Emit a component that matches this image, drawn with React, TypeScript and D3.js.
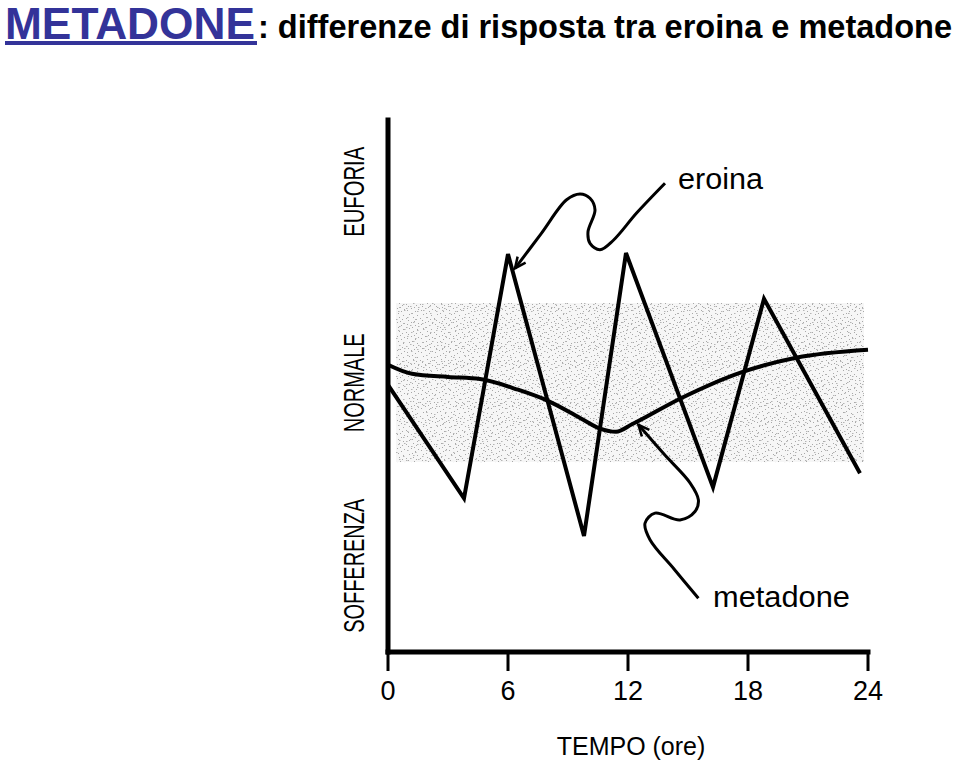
import React from "react";
import * as d3 from "d3";

// ---- data ----
const hoursTicks = [0, 6, 12, 18, 24];
const eroinaHours = [0, 3.8, 6, 9.8, 11.9, 16.25, 18.8, 23.6];
const eroinaLevel = [50.2, 28.9, 74.8, 21.8, 75.0, 31.0, 66.4, 33.6];
const metadoneHours = [0, 1.2, 3, 4.6, 6.5, 8, 9.6, 10.6, 11.4, 12.2, 14.6, 17.7, 20.4, 24];
const metadoneLevel = [54, 52.3, 51.7, 51.3, 49.3, 47.2, 44, 42, 41.4, 42.8, 47.6, 52.6, 55.3, 56.8];
const normalBand = [35.7, 65.6];
const normalBandHours = [0.4, 23.8];
const stateLabels = ["EUFORIA", "NORMALE", "SOFFERENZA"];
const stateCenters = [86.5, 50.6, 16.2];
const stateLengths = [90, 99, 134];
const eroinaCallout: [number, number][] = [
  [13.85, 88.1], [12.43, 82.5], [11.27, 77.4], [10.6, 75.6], [10.1, 76.8], [10.0, 79.0],
  [10.35, 83.1], [10.1, 85.3], [9.6, 86.1], [8.93, 85.0], [7.65, 78.6], [6.35, 72.1],
];
const metadoneCallout: [number, number][] = [
  [15.52, 10.1], [14.3, 15.6], [13.1, 21.1], [12.85, 24.2], [13.35, 26.1], [14.6, 24.8],
  [15.35, 26.4], [15.52, 28.6], [15.1, 31.8], [13.8, 37.2], [12.52, 42.7],
];
const eroinaLabelPos = [14.5, 87.0];
const metadoneLabelPos = [16.25, 8.5];

// stipple texture tiles (style only)
const dotsA: [number, number][] = [
  [1, 2], [5, 0], [9, 3], [3, 6], [11, 7], [7, 9], [0, 10], [12, 1], [6, 5], [10, 11], [2, 12], [8, 13],
];
const dotsB: [number, number][] = [
  [2, 1], [9, 4], [15, 2], [5, 8], [13, 10], [1, 14], [8, 16], [16, 17], [11, 13], [4, 18],
];

const W = 960;
const H = 782;
const FONT = "'Liberation Sans', Arial, Helvetica, sans-serif";

export default function App() {
  const x = d3.scaleLinear().domain([0, 24]).range([388, 868]);
  const y = d3.scaleLinear().domain([0, 100]).range([652, 120]);

  const eroinaLine = d3
    .line<number>()
    .x((_, i) => x(eroinaHours[i]))
    .y((d) => y(d));
  const metLine = d3
    .line<number>()
    .x((_, i) => x(metadoneHours[i]))
    .y((d) => y(d))
    .curve(d3.curveMonotoneX);
  const callLine = d3
    .line<[number, number]>()
    .x((d) => x(d[0]))
    .y((d) => y(d[1]))
    .curve(d3.curveCatmullRom.alpha(0.5));

  const bx = x(normalBandHours[0]);
  const bw = x(normalBandHours[1]) - bx;
  const by = y(normalBand[1]);
  const bh = y(normalBand[0]) - by;

  return (
    <svg
      width={W}
      height={H}
      style={{ position: "absolute", left: 0, top: 0, display: "block", background: "#fff" }}
    >
      <defs>
        <pattern id="dotsA" width={14} height={14} patternUnits="userSpaceOnUse">
          {dotsA.map((d, i) => (
            <rect key={i} x={d[0]} y={d[1]} width={1} height={1} fill="#a8a8a8" />
          ))}
        </pattern>
        <pattern id="dotsB" width={19} height={19} patternUnits="userSpaceOnUse" patternTransform="translate(3,5)">
          {dotsB.map((d, i) => (
            <rect key={i} x={d[0]} y={d[1]} width={1.5} height={1} fill="#b4b4b4" />
          ))}
        </pattern>
        <marker id="arr" viewBox="-12 -7 14 14" refX="0" refY="0" markerWidth="14" markerHeight="14"
          markerUnits="userSpaceOnUse" orient="auto">
          <path d="M-11,-5 L0,0 L-11,5" fill="none" stroke="#000" strokeWidth={2.5} />
        </marker>
      </defs>

      {/* Title */}
      <text x={5} y={39} fontFamily={FONT} fontWeight="bold" fontSize={44} fill="#333399"
        textLength={250} lengthAdjust="spacingAndGlyphs">METADONE</text>
      <rect x={5} y={41} width={252} height={4} fill="#333399" />
      <text x={258} y={38} fontFamily={FONT} fontWeight="bold" fontSize={32.5} fill="#000"
        textLength={694} lengthAdjust="spacingAndGlyphs">: differenze di risposta tra eroina e metadone</text>

      {/* normal band */}
      <rect x={bx} y={by} width={bw} height={bh} fill="#f6f6f6" />
      <rect x={bx} y={by} width={bw} height={bh} fill="url(#dotsA)" />
      <rect x={bx} y={by} width={bw} height={bh} fill="url(#dotsB)" />

      {/* axes */}
      <line x1={x(0)} x2={x(0)} y1={y(100)} y2={y(0)} stroke="#000" strokeWidth={5} strokeLinecap="square" />
      <line x1={x(0)} x2={x(24)} y1={y(0)} y2={y(0)} stroke="#000" strokeWidth={5} strokeLinecap="square" />
      {hoursTicks.map((t) => (
        <g key={t}>
          <line x1={x(t)} x2={x(t)} y1={y(0)} y2={y(0) + 19} stroke="#000" strokeWidth={3} />
          <text x={x(t)} y={700} textAnchor="middle" fontFamily={FONT} fontSize={27} fill="#000">{t}</text>
        </g>
      ))}
      <text x={631} y={755} textAnchor="middle" fontFamily={FONT} fontSize={25} fill="#000">TEMPO (ore)</text>

      {stateLabels.map((s, i) => (
        <text key={s} transform={`translate(${x(0) - 24},${y(stateCenters[i])}) rotate(-90)`}
          textAnchor="middle" fontFamily={FONT} fontSize={29} fill="#000"
          textLength={stateLengths[i]} lengthAdjust="spacingAndGlyphs">{s}</text>
      ))}

      {/* series */}
      <path d={metLine(metadoneLevel) || ""} fill="none" stroke="#000" strokeWidth={4} strokeLinejoin="round" />
      <path d={eroinaLine(eroinaLevel) || ""} fill="none" stroke="#000" strokeWidth={4} strokeLinejoin="miter" />

      {/* callouts */}
      <path d={callLine(eroinaCallout) || ""} fill="none" stroke="#000" strokeWidth={3} markerEnd="url(#arr)" />
      <path d={callLine(metadoneCallout) || ""} fill="none" stroke="#000" strokeWidth={3} markerEnd="url(#arr)" />
      <text x={x(eroinaLabelPos[0])} y={y(eroinaLabelPos[1])} fontFamily={FONT} fontSize={29} fill="#000"
        textLength={85} lengthAdjust="spacingAndGlyphs">eroina</text>
      <text x={x(metadoneLabelPos[0])} y={y(metadoneLabelPos[1])} fontFamily={FONT} fontSize={30} fill="#000"
        textLength={137} lengthAdjust="spacingAndGlyphs">metadone</text>
    </svg>
  );
}
